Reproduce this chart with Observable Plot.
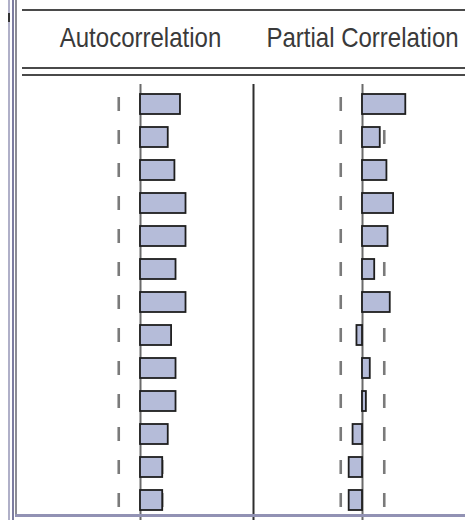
<!DOCTYPE html>
<html>
<head>
<meta charset="utf-8">
<script src="https://cdn.jsdelivr.net/npm/d3@7"></script>
<script src="https://cdn.jsdelivr.net/npm/@observablehq/plot@0.6"></script>
<style>
  html, body { margin: 0; padding: 0; background: #fff; }
  #frame { position: relative; width: 465px; height: 520px; overflow: hidden; background: #fff; }
  #frame svg { position: absolute; left: 0; top: 0; }
  .line { position: absolute; }
</style>
</head>
<body>
<div id="frame">
  <div class="line" style="left:8px;top:0;width:2px;height:520px;background:#b0b0c8"></div>
  <div class="line" style="left:12px;top:0;width:2px;height:520px;background:#7c7ca0"></div>
  <div class="line" style="left:15px;top:0;width:2px;height:516px;background:#8c8c94"></div>
  <div class="line" style="left:8px;top:13px;width:2px;height:9px;background:#333"></div>
  <div class="line" style="left:22px;top:9px;width:443px;height:2px;background:#4a4a4a"></div>
  <div class="line" style="left:22px;top:67px;width:443px;height:2px;background:#4a4a4a"></div>
  <div class="line" style="left:22px;top:74px;width:443px;height:2px;background:#4a4a4a"></div>
</div>
<script>
// Correlogram: autocorrelation and partial autocorrelation by lag
const lags = [1, 2, 3, 4, 5, 6, 7, 8, 9, 10, 11, 12, 13];
const panels = ["Autocorrelation", "Partial Correlation"];
const acf  = [0.36, 0.25, 0.31, 0.41, 0.41, 0.32, 0.41, 0.28, 0.32, 0.32, 0.25, 0.2, 0.2];
const pacf = [0.39, 0.16, 0.22, 0.28, 0.23, 0.11, 0.25, -0.05, 0.07, 0.035, -0.085, -0.12, -0.12];
const bound = 0.196; // ±1.96/√n with n = 100
const xDomain = [-0.982, 1.018];

const rows = lags.flatMap((lag, i) => [
  {panel: panels[0], lag, value: acf[i]},
  {panel: panels[1], lag, value: pacf[i]}
]);
const bands = lags.flatMap(lag => panels.flatMap(panel =>
  [-bound, bound].map(x => ({panel, lag, x}))));

const chart = Plot.plot({
  width: 475,
  height: 520,
  marginLeft: 31,
  marginRight: 0,
  marginTop: 84,
  marginBottom: 0,
  style: "max-width:none;overflow:visible;background:transparent;font-family:'Liberation Sans',Arial,sans-serif",
  fx: {domain: panels, padding: 0, axis: null},
  x: {domain: xDomain, axis: null},
  y: {domain: lags, axis: null, paddingInner: 0.38, paddingOuter: 0.27},
  marks: [
    Plot.tickX(bands, {fx: "panel", y: "lag", x: "x", stroke: "#7a7a7a", strokeWidth: 2.6, insetTop: 3, insetBottom: 3}),
    Plot.ruleX([0], {stroke: "#6a6a6a", strokeWidth: 2}),
    Plot.ruleX([panels[1]], {fx: d => d, x: () => xDomain[0], stroke: "#2e2e2e", strokeWidth: 2}),
    Plot.barX(rows, {fx: "panel", y: "lag", x: "value", fill: "#b5bcd9", stroke: "#1e1e1e", strokeWidth: 1.8}),
    Plot.text(panels, {fx: d => d, x: 0, frameAnchor: "top", text: d => d, dy: -46, lineAnchor: "middle",
      fontSize: 27, fill: "#3a3a3a", className: "hdr"})
  ]
});

// narrow the header lettering horizontally, keeping each label centred
d3.select(chart).selectAll(".hdr text").attr("transform", function() {
  const t = this.getAttribute("transform") || "";
  return (t + " scale(0.89,1)").trim();
});

document.getElementById("frame").prepend(chart);

const bottom = document.createElement("div");
bottom.className = "line";
bottom.style.cssText = "left:15px;top:514px;width:450px;height:3px;background:#9292b4";
document.getElementById("frame").appendChild(bottom);
</script>
</body>
</html>
